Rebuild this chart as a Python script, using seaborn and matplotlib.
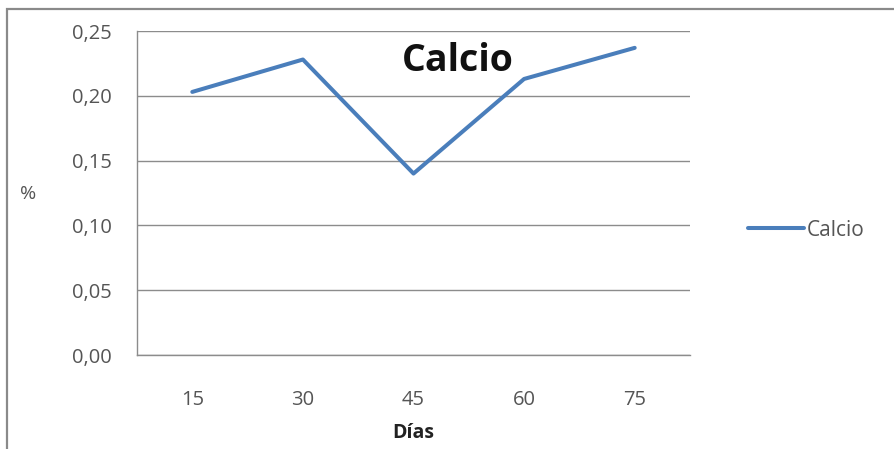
import matplotlib
matplotlib.use("Agg")
import matplotlib.pyplot as plt
from matplotlib.patches import Rectangle
from matplotlib.ticker import FixedLocator, FuncFormatter
import seaborn as sns
import pandas as pd

# Calcium content (%) sampled every 15 days
dias = ["15", "30", "45", "60", "75"]
calcio = [0.203, 0.228, 0.140, 0.213, 0.237]
y_ticks = [0.00, 0.05, 0.10, 0.15, 0.20, 0.25]

df = pd.DataFrame({"Días": dias, "Calcio": calcio})

sns.set_style("white")
plt.rcParams["font.family"] = ["Open Sans", "DejaVu Sans"]

W, H = 895, 449
fig = plt.figure(figsize=(W / 100, H / 100), dpi=100)
ax = fig.add_axes([137 / W, 1 - 355 / H, (690 - 137) / W, (355 - 31) / H])

grid_c = "#8c8c8c"
text_c = "#555555"
line_c = "#4a7ebb"

sns.lineplot(data=df, x="Días", y="Calcio", sort=False, ax=ax,
             color=line_c, linewidth=2.9, label="Calcio", legend=False)

ax.set_xlim(-0.5, len(dias) - 0.5)
ax.set_ylim(0, 0.25)
ax.yaxis.set_major_locator(FixedLocator(y_ticks))
ax.yaxis.set_major_formatter(FuncFormatter(lambda v, p: f"{v:.2f}".replace(".", ",")))
ax.grid(axis="y", color=grid_c, linewidth=1.0)
ax.set_axisbelow(True)

# category ticks sit between the categories
ax.xaxis.set_minor_locator(FixedLocator([i - 0.5 for i in range(len(dias) + 1)]))
ax.tick_params(axis="x", which="major", length=0, pad=25, labelsize=14.5, labelcolor=text_c)
ax.tick_params(axis="x", which="minor", length=6, color=grid_c, direction="out", width=1)
ax.tick_params(axis="y", which="major", length=6, color=grid_c, direction="out", width=1,
               pad=12, labelsize=14.5, labelcolor=text_c)

for side in ["top", "right"]:
    ax.spines[side].set_visible(False)
for side in ["left", "bottom"]:
    ax.spines[side].set_color(grid_c)
    ax.spines[side].set_linewidth(1.0)

ax.set_xlabel("")
ax.set_ylabel("")
fig.text(413 / W, 1 - 433 / H, "Días", fontsize=14, fontweight="bold",
         color="#222222", ha="center", va="center")
fig.text(28 / W, 1 - 194 / H, "%", fontsize=14, color=text_c, ha="center", va="center")

ax.text(458 / W, 1 - 61 / H, "Calcio", transform=fig.transFigure, fontsize=27,
        fontweight="bold", color="#111111", ha="center", va="center")

ax.legend(loc="center left", bbox_to_anchor=(748 / W, 1 - 230 / H),
          bbox_transform=fig.transFigure, frameon=False, fontsize=15,
          handlelength=2.7, handletextpad=0.1, labelcolor=text_c,
          borderpad=0, borderaxespad=0)

# chart frame (continues past the right and bottom edges)
fig.patches.append(Rectangle((7 / W, -0.05), 1.05, 1.05 - 9 / H,
                             transform=fig.transFigure, fill=False,
                             edgecolor="#8a8a8a", linewidth=1.6))

fig.savefig("out.png", dpi=100)
